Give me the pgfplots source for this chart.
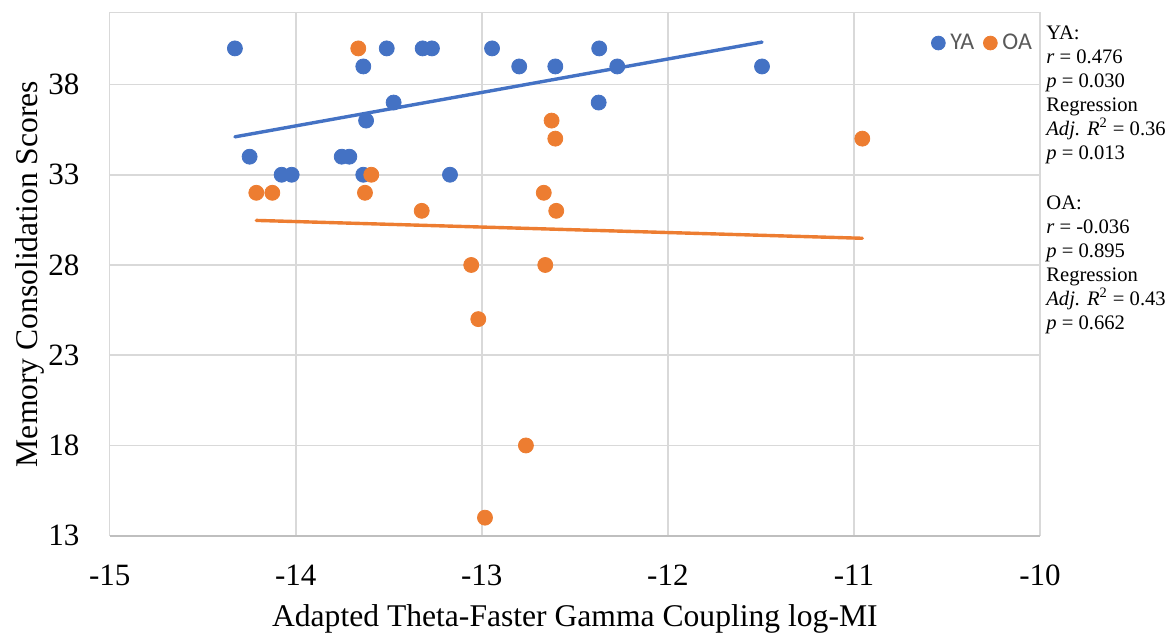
\documentclass[border=0pt]{standalone}
\usepackage{fontspec}
\setmainfont{Liberation Serif}
\newfontfamily\legfont{Carlito}
\usepackage{pgfplots}
\pgfplotsset{compat=1.18}
\definecolor{ya}{HTML}{4472C4}
\definecolor{oa}{HTML}{ED7D31}
\definecolor{gridc}{HTML}{D9D9D9}
\definecolor{axisgray}{HTML}{BFBFBF}
\definecolor{legtext}{HTML}{595959}
\begin{document}
\begin{tikzpicture}
\useasboundingbox (-54.85pt,-49.15pt) rectangle (529.65pt,267.85pt);
\begin{axis}[
  at={(0pt,0pt)}, anchor=south west,
  scale only axis, width=465.15pt, height=261.7pt,
  xmin=-15, xmax=-10, ymin=13, ymax=42,
  xtick={-15,-14,-13,-12,-11,-10}, xticklabels={-15,-14,-13,-12,-11,-10},
  ytick={13,18,23,28,33,38}, yticklabels={13,18,23,28,33,38},
  major tick length=0pt,
  axis line style={draw=none},
  grid=major, major grid style={draw=gridc, line width=0.8pt},
  tick label style={font=\fontsize{15.5}{18}\selectfont, inner sep=0pt},
  xticklabel style={anchor=north, yshift=-14.6pt},
  yticklabel style={anchor=east, xshift=-14.9pt},
  xlabel={Adapted Theta-Faster Gamma Coupling log-MI},
  xlabel style={at={(axis description cs:0.5,-0.1739)}, anchor=base, inner sep=0pt, font=\fontsize{15.8}{19}\selectfont},
  ylabel={Memory Consolidation Scores},
  ylabel style={at={(axis description cs:-0.0771,0.5)}, anchor=base, inner sep=0pt, font=\fontsize{15.8}{19}\selectfont},
  legend image code/.code={\draw[#1, mark size=3.45pt] plot coordinates {(0pt,0pt)};},
  legend style={draw=none, fill=none, at={(axis description cs:0.9914,0.9413)}, anchor=east,
    inner sep=0pt, outer sep=0pt, font=\legfont\fontsize{12}{14}\selectfont, text=legtext,
    legend columns=-1, nodes={inner sep=0pt},
    /tikz/every odd column/.append style={column sep=2.6pt},
    /tikz/every even column/.append style={column sep=4.6pt}},
  clip=false,
]
\draw[gridc, line width=0.8pt] (rel axis cs:0,1) -- (rel axis cs:1,1);
\draw[axisgray, line width=0.8pt] (rel axis cs:0,0) -- (rel axis cs:1,0);

\addplot[only marks, mark=*, color=ya, mark size=3.75pt]
coordinates {
(-14.327,40) (-14.248,34) (-14.076,33) (-14.022,33) (-13.637,39)
(-13.622,36) (-13.753,34) (-13.712,34) (-13.637,33) (-13.511,40)
(-13.474,37) (-13.318,40) (-13.268,40) (-13.171,33) (-12.945,40)
(-12.799,39) (-12.605,39) (-12.369,40) (-12.372,37) (-12.272,39)
(-11.494,39)
};
\addlegendentry{YA}

\addplot[only marks, mark=*, color=oa, mark size=3.75pt]
coordinates {
(-13.664,40) (-14.212,32) (-14.126,32) (-13.628,32) (-13.594,33)
(-13.323,31) (-13.057,28) (-12.659,28) (-12.625,36) (-12.605,35)
(-12.667,32) (-12.600,31) (-10.955,35) (-13.019,25) (-12.763,18)
(-12.983,14)
};
\addlegendentry{OA}

\addplot[ya, line width=1.7pt, line cap=round, forget plot] coordinates {(-14.327,35.10) (-11.494,40.35)};
\addplot[oa, line width=1.7pt, line cap=round, forget plot] coordinates {(-14.212,30.47) (-10.955,29.48)};

\node[anchor=north west, align=left, inner sep=0pt, font=\fontsize{10.3}{12}\selectfont,
  xshift=3pt, yshift=-6.35pt] at (rel axis cs:1,1) {%
YA:\\
\textit{r} = 0.476\\
\textit{p} = 0.030\\
Regression\\
\textit{Adj. R}\textsuperscript{2} = 0.36\\
\textit{p} = 0.013\\[13pt]
OA:\\
\textit{r} = -0.036\\
\textit{p} = 0.895\\
Regression\\
\textit{Adj. R}\textsuperscript{2} = 0.43\\
\textit{p} = 0.662};
\end{axis}
\end{tikzpicture}
\end{document}
